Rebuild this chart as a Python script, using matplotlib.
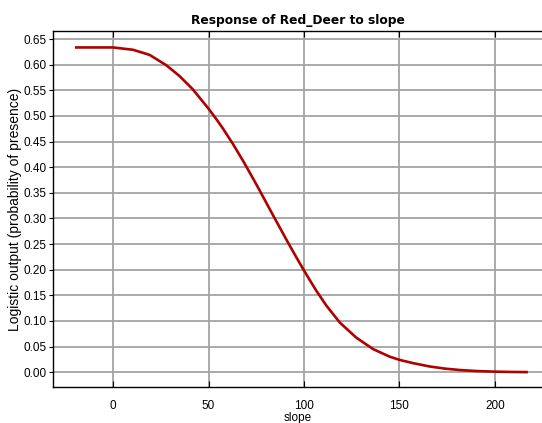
import numpy as np
import matplotlib.pyplot as plt

# response curve
slope = [-20, 0, 10.4, 19.1, 27.8, 34.7, 41.7, 50.0, 54.3, 57.3, 62.8, 68.2,
         74.3, 77.7, 83.8, 91.6, 96.0, 100.0, 102.8, 106.6, 111.8, 118.8, 127.5,
         136.2, 145.0, 150.2, 157.2, 165.9, 174.0, 182.0, 190.0, 199.5, 208.0, 217.3]
prob = [0.6335, 0.6335, 0.629, 0.619, 0.599, 0.578, 0.552, 0.514, 0.4925, 0.4766, 0.445, 0.4115,
        0.3712, 0.3481, 0.306, 0.253, 0.224, 0.1984, 0.181, 0.158, 0.1295, 0.0966, 0.067,
        0.045, 0.030, 0.0238, 0.0175, 0.011, 0.0068, 0.004, 0.0022, 0.001, 0.0004, 0.0]

xticks = [0, 50, 100, 150, 200]
yticks = np.round(np.arange(0, 0.651, 0.05), 2)

fig = plt.figure(figsize=(5.42, 4.23), dpi=100)
ax = fig.add_axes([0.0978, 0.0851, 0.9022, 0.8416])

ax.plot(slope, prob, color='#b00000', lw=1.9, zorder=3,
        solid_joinstyle='round', solid_capstyle='butt')

ax.set_xlim(-31.5, 224.7)
ax.set_ylim(-0.029, 0.6656)
ax.set_xticks(xticks)
ax.set_yticks(yticks)
ax.set_yticklabels([f"{v:.2f}" for v in yticks])
ax.grid(True, color='#a4a4a4', lw=1.3)
ax.set_axisbelow(True)

for s in ['left', 'bottom', 'top']:
    ax.spines[s].set_color('black')
    ax.spines[s].set_linewidth(1.0)
ax.spines['right'].set_visible(False)

ax.tick_params(axis='x', direction='in', length=4, top=True, labelsize=8.5, pad=9)
ax.tick_params(axis='y', direction='out', length=3, labelsize=8.5, pad=1.5)
for lab in ax.get_xticklabels() + ax.get_yticklabels():
    lab.set_family('Liberation Sans')

ax.set_title("Response of Red_Deer to slope", fontsize=8.8, fontweight='bold',
             family='DejaVu Sans', pad=5)
ax.set_xlabel("slope", fontsize=8.5, family='Liberation Sans', labelpad=0)
ax.set_ylabel("Logistic output (probability of presence)", fontsize=10,
              family='Liberation Sans', labelpad=1)

fig.savefig("out.png", dpi=100)
